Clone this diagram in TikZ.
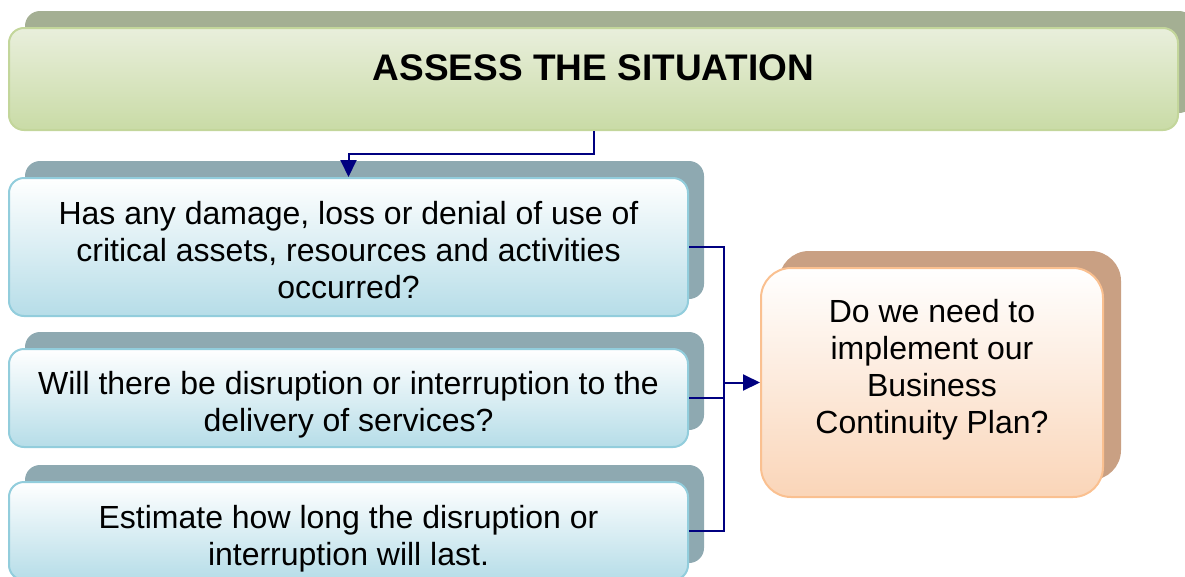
\documentclass[tikz,border=0pt]{standalone}
\usepackage{fontspec}
\setmainfont{Liberation Sans}
\usepackage{xcolor}
\definecolor{bannerTop}{HTML}{E9EFDC}
\definecolor{bannerBot}{HTML}{C9DBA6}
\definecolor{bannerLine}{HTML}{C3D69B}
\definecolor{bannerShadow}{HTML}{A4AF93}
\definecolor{qBot}{HTML}{B6DDE8}
\definecolor{qLine}{HTML}{92CDDC}
\definecolor{qShadow}{HTML}{8EA9B1}
\definecolor{planBot}{HTML}{FAD5B8}
\definecolor{planLine}{HTML}{FAC090}
\definecolor{planShadow}{HTML}{C9A083}
\definecolor{link}{HTML}{000080}
\usepackage{tikz}
\usetikzlibrary{arrows.meta}
\usetikzlibrary{calc}
\usetikzlibrary{shadows}

\begin{document}
\begin{tikzpicture}[x=1pt, y=-1pt,
    box/.style={line width=2pt, rounded corners=15pt},
    banner/.style={box, draw=bannerLine, top color=bannerTop, bottom color=bannerBot,
        general shadow={shadow xshift=16pt, shadow yshift=17pt, fill=bannerShadow},
        minimum width=1169pt, minimum height=102pt},
    question/.style={box, draw=qLine, top color=white, bottom color=qBot,
        general shadow={shadow xshift=16pt, shadow yshift=17pt, fill=qShadow},
        minimum width=679pt},
    decision/.style={box, draw=planLine, top color=white, bottom color=planBot,
        rounded corners=30pt,
        general shadow={shadow xshift=18pt, shadow yshift=17pt, fill=planShadow},
        minimum width=342pt, minimum height=229pt},
    words/.style={align=center, inner sep=0pt, font=\fontsize{32}{37}\selectfont},
    link/.style={draw=link, line width=2pt},
    tip/.style={-{Triangle[length=17pt, width=16pt]}}]

    \useasboundingbox (0, 0) rectangle (1185, 576);

    \node [banner] (assess) at (593.5, 79) {};
    \node [words, font=\fontsize{37}{42}\selectfont\bfseries] (assesstext) at (593.5, 68)
    {ASSESS THE SITUATION};

    \node [question, minimum height=138pt] (damage) at (348.5, 247) {};
    \node [words] (damagetext) at (348.5, 250)
    {Has any damage, loss or denial of use of\\critical assets, resources and activities\\occurred?};

    \node [question, minimum height=98pt] (disrupt) at (348.5, 398) {};
    \node [words] (disrupttext) at (348.5, 405)
    {Will there be disruption or interruption to the\\delivery of services?};

    \node [question, minimum height=98pt] (estimate) at (348.5, 531) {};
    \node [words] (estimatetext) at (348.5, 539)
    {Estimate how long the disruption or\\interruption will last.};

    \node [decision] (plan) at (932, 382.5) {};
    \node [words] (plantext) at (932, 369.5)
    {Do we need to\\implement our\\Business\\Continuity Plan?};

    \draw [link, tip] (assess.south) -- ++(0, 23) -| (damage.north);

    \coordinate (bus) at (724, 382.5);
    \draw [link] (damage.east) -| (bus);
    \draw [link] (estimate.east) -| (bus);
    \draw [link] (disrupt.east) -- (disrupt.east -| bus);
    \draw [link, tip] (bus) -- (plan.west);

\end{tikzpicture}
\end{document}
